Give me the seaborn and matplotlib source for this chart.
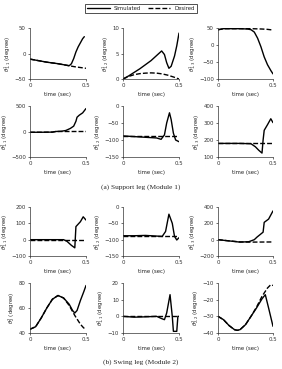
import numpy as np
import pandas as pd
import matplotlib
matplotlib.use("Agg")
import matplotlib.pyplot as plt
import seaborn as sns
from matplotlib.lines import Line2D

sns.set_theme(style="ticks")
plt.rcParams['font.family'] = ['DejaVu Sans']

# ---------------- data (time in sec, angles in degree) ----------------
# (a) Support leg, row 1
a11_ts = [0, 0.05, 0.1, 0.15, 0.2, 0.25, 0.3, 0.35, 0.37, 0.39, 0.41, 0.43, 0.45, 0.47, 0.485]
a11_ys = [-11, -13, -15, -17, -18.5, -20, -22, -24, -20, -10, 3, 13, 21, 29, 33]
a11_td = [0, 0.05, 0.1, 0.15, 0.2, 0.25, 0.3, 0.35, 0.4, 0.45, 0.5]
a11_yd = [-11, -13, -15, -17, -18.5, -20, -22, -24, -26, -27.5, -29]

a12_ts = [0, 0.05, 0.1, 0.15, 0.2, 0.25, 0.3, 0.345, 0.37, 0.39, 0.41, 0.43, 0.46, 0.48, 0.5]
a12_ys = [0, 0.6, 1.3, 2.0, 2.8, 3.6, 4.6, 5.5, 4.8, 3.2, 2.1, 2.5, 4.5, 6.5, 9.0]
a12_td = [0, 0.05, 0.1, 0.15, 0.2, 0.25, 0.3, 0.35, 0.4, 0.45, 0.5]
a12_yd = [0, 0.5, 0.85, 1.05, 1.15, 1.2, 1.15, 1.0, 0.75, 0.4, 0.0]

a13_ts = [0, 0.02, 0.05, 0.1, 0.2, 0.27, 0.3, 0.33, 0.36, 0.39, 0.42, 0.45, 0.48, 0.5]
a13_ys = [45, 46, 48, 48, 48, 47, 45, 38, 20, -5, -35, -58, -75, -85]
a13_td = [0, 0.02, 0.05, 0.1, 0.2, 0.3, 0.4, 0.45, 0.5]
a13_yd = [45, 46, 48, 48, 48, 48, 47, 46, 44]

# (a) Support leg, row 2
a21_ts = [0, 0.1, 0.2, 0.23, 0.28, 0.32, 0.36, 0.39, 0.41, 0.42, 0.44, 0.47, 0.5]
a21_ys = [-15, -15, -12, 0, 5, 20, 60, 105, 200, 280, 320, 365, 450]
a21_td = [0, 0.1, 0.2, 0.23, 0.3, 0.4, 0.5]
a21_yd = [-15, -15, -12, 0, 0, 0, 0]

a22_ts = [0, 0.1, 0.2, 0.3, 0.34, 0.37, 0.39, 0.415, 0.43, 0.45, 0.47, 0.5]
a22_ys = [-88, -90, -92, -94, -98, -85, -50, -20, -40, -80, -100, -105]
a22_td = [0, 0.1, 0.2, 0.3, 0.4, 0.5]
a22_yd = [-88, -88, -88, -88, -88, -88]

a23_ts = [0, 0.1, 0.2, 0.3, 0.34, 0.37, 0.4, 0.41, 0.42, 0.45, 0.48, 0.5]
a23_ys = [180, 180, 180, 178, 160, 140, 123, 200, 257, 290, 325, 302]
a23_td = [0, 0.1, 0.2, 0.3, 0.4, 0.5]
a23_yd = [180, 180, 180, 180, 180, 180]

# (b) Swing leg, row 1
b11_ts = [0, 0.1, 0.2, 0.3, 0.33, 0.37, 0.4, 0.41, 0.45, 0.475, 0.5]
b11_ys = [0, 0, 0, 0, -10, -35, -50, 80, 110, 140, 120]
b11_td = [0, 0.1, 0.2, 0.3, 0.4, 0.5]
b11_yd = [0, 0, 0, 0, 0, 0]

b12_ts = [0, 0.1, 0.2, 0.3, 0.35, 0.38, 0.41, 0.44, 0.46, 0.48, 0.5]
b12_ys = [-88, -88, -87, -89, -90, -75, -22, -50, -90, -101, -94]
b12_td = [0, 0.1, 0.2, 0.3, 0.4, 0.5]
b12_yd = [-88, -88, -88, -88, -88, -88]

b13_ts = [0, 0.1, 0.2, 0.28, 0.33, 0.355, 0.39, 0.41, 0.42, 0.46, 0.5]
b13_ys = [0, -15, -30, -25, 0, 32, 70, 92, 212, 252, 352]
b13_td = [0, 0.1, 0.2, 0.3, 0.4, 0.5]
b13_yd = [0, -15, -27, -30, -29, -28]

# (b) Swing leg, row 2
b21_ts = [0, 0.05, 0.1, 0.15, 0.2, 0.25, 0.3, 0.35, 0.38, 0.4, 0.42, 0.45, 0.48, 0.5]
b21_ys = [43, 45, 52, 60, 67, 70, 68, 63, 58, 56, 58, 66, 73, 78]
b21_td = [0, 0.05, 0.1, 0.15, 0.2, 0.25, 0.3, 0.35, 0.4, 0.45, 0.48, 0.5]
b21_yd = [43, 45, 52, 60, 67, 70, 68, 62, 54, 47, 44, 43.5]

b22_ts = [0, 0.1, 0.2, 0.3, 0.35, 0.37, 0.39, 0.42, 0.44, 0.45, 0.48, 0.49, 0.5]
b22_ys = [0, -0.5, -0.3, 0, -1.5, -2, 2, 13, 0, -9, -9, 0, 0]
b22_td = [0, 0.1, 0.2, 0.3, 0.4, 0.5]
b22_yd = [0, 0, 0, 0, 0, 0]

b23_ts = [0, 0.05, 0.1, 0.15, 0.175, 0.2, 0.25, 0.3, 0.35, 0.4, 0.43, 0.46, 0.5]
b23_ys = [-30, -32, -35.5, -38, -38.4, -38, -35, -30, -25, -19.5, -17, -25, -36]
b23_td = [0, 0.05, 0.1, 0.15, 0.175, 0.2, 0.25, 0.3, 0.35, 0.4, 0.45, 0.48, 0.5]
b23_yd = [-30, -32, -35.5, -38, -38.4, -38, -35, -30, -24.5, -18, -13, -11, -11.5]

# labels, limits, ticks
labels = [r"$\theta^1_{1,1}$ (degree)", r"$\theta^1_{1,2}$ (degree)", r"$\theta^1_{1,3}$ (degree)",
          r"$\theta^2_{1,1}$ (degree)", r"$\theta^2_{1,2}$ (degree)", r"$\theta^2_{1,3}$ (degree)",
          r"$\theta^2_{1,1}$ (degree)", r"$\theta^2_{1,2}$ (degree)", r"$\theta^2_{1,3}$ (degree)",
          r"$\theta^2_{2}$ (degree)", r"$\theta^2_{1,1}$ (degree)", r"$\theta^2_{2,2}$ (degree)"]
yticks = [[-50, 0, 50], [0, 5, 10], [-100, -50, 0, 50],
          [-500, 0, 500], [-150, -100, -50, 0], [100, 200, 300, 400],
          [-100, 0, 100, 200], [-150, -100, -50, 0], [-200, 0, 200, 400],
          [40, 60, 80], [-10, 0, 10, 20], [-40, -30, -20, -10]]
xticks = [0, 0.5]
xticklabels = ["0", "0.5"]
captions = ["(a) Support leg (Module 1)", "(b) Swing leg (Module 2)"]
legend_labels = ["Simulated", "Desired"]

panels = [(a11_ts, a11_ys, a11_td, a11_yd), (a12_ts, a12_ys, a12_td, a12_yd), (a13_ts, a13_ys, a13_td, a13_yd),
          (a21_ts, a21_ys, a21_td, a21_yd), (a22_ts, a22_ys, a22_td, a22_yd), (a23_ts, a23_ys, a23_td, a23_yd),
          (b11_ts, b11_ys, b11_td, b11_yd), (b12_ts, b12_ys, b12_td, b12_yd), (b13_ts, b13_ys, b13_td, b13_yd),
          (b21_ts, b21_ys, b21_td, b21_yd), (b22_ts, b22_ys, b22_td, b22_yd), (b23_ts, b23_ys, b23_td, b23_yd)]

# ---------------- layout ----------------
W, H = 282, 369
fig = plt.figure(figsize=(W / 100, H / 100), dpi=100)
col_px = [(30, 86), (123, 179), (218, 273)]
row_px = [(28, 79), (106, 157), (207, 256), (283, 333)]

fs = 3.9
for i, (ts, ys, td, yd) in enumerate(panels):
    r, c = divmod(i, 3)
    x0, x1 = col_px[c]
    y0, y1 = row_px[r]
    ax = fig.add_axes([x0 / W, 1 - y1 / H, (x1 - x0) / W, (y1 - y0) / H])
    sns.lineplot(x=td, y=yd, ax=ax, color="black", linestyle=(0, (3.5, 1.5)), linewidth=1.0)
    sns.lineplot(x=ts, y=ys, ax=ax, color="black", linewidth=1.0)
    yt = yticks[i]
    ax.set_ylim(yt[0], yt[-1])
    ax.set_yticks(yt)
    ax.set_xlim(0, 0.5)
    ax.set_xticks(xticks)
    ax.set_xticklabels(xticklabels)
    ax.tick_params(labelsize=fs, length=1.5, width=0.5, pad=1.5, colors="#333333")
    ax.set_ylabel(labels[i], fontsize=fs, labelpad=1.0)
    ax.set_xlabel("time (sec)", fontsize=fs, labelpad=2.5)
    for s in ["top", "right"]:
        ax.spines[s].set_visible(False)
    for s in ["left", "bottom"]:
        ax.spines[s].set_linewidth(0.5)
        ax.spines[s].set_color("#333333")

fig.text(0.5, 1 - 187 / H, captions[0], ha="center", va="center",
         fontsize=5.3, family="Liberation Serif")
fig.text(0.5, 1 - 362 / H, captions[1], ha="center", va="center",
         fontsize=5.3, family="Liberation Serif")

handles = [Line2D([], [], color="black", linewidth=1.0),
           Line2D([], [], color="black", linewidth=1.0, linestyle=(0, (3.5, 1.5)))]
leg = fig.legend(handles, legend_labels, loc="upper center", bbox_to_anchor=(0.5, 1 - 1 / H),
                 ncol=2, fontsize=fs, frameon=True, fancybox=False, edgecolor="black",
                 handlelength=4.2, columnspacing=1.2, borderpad=0.4, handletextpad=0.8)
leg.get_frame().set_linewidth(0.6)

fig.savefig("out.png", dpi=100)
